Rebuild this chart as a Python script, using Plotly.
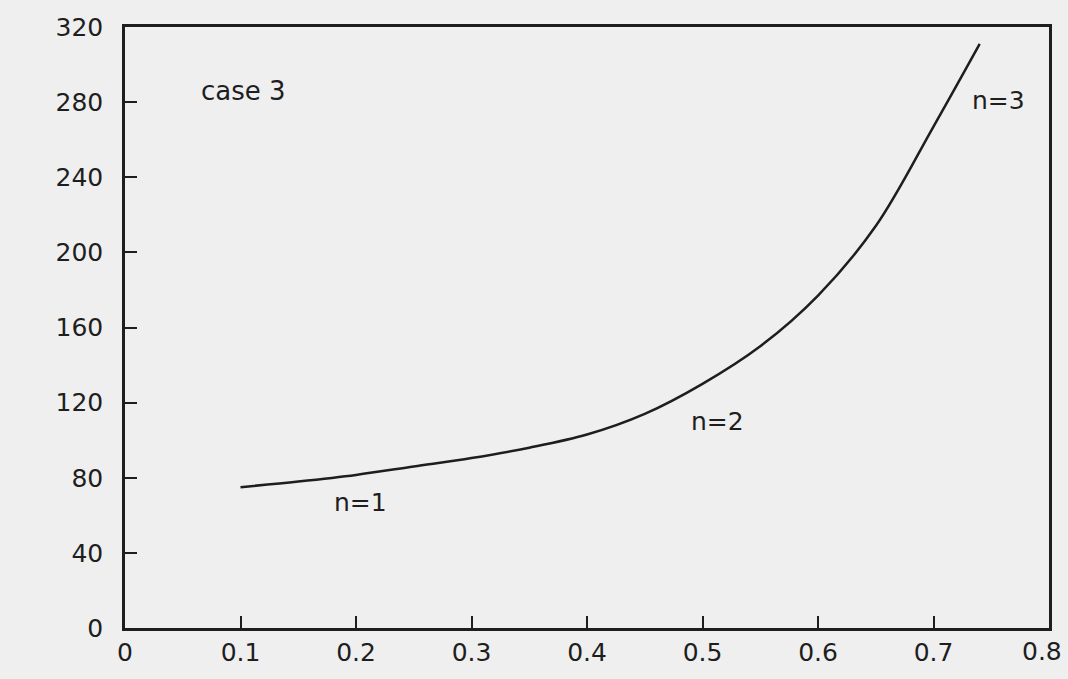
import plotly.graph_objects as go

# Data (a/b vs lambda, case 3)
ab = [0.10, 0.15, 0.20, 0.25, 0.30, 0.35, 0.40, 0.45, 0.50, 0.55, 0.60, 0.65, 0.70, 0.74]
lam = [75, 78, 81.5, 86, 90.5, 96, 103, 114, 130, 150, 177, 214, 267, 311]

x_ticks = [0, 0.1, 0.2, 0.3, 0.4, 0.5, 0.6, 0.7, 0.8]
x_labels = ["0", "0.1", "0.2", "0.3", "0.4", "0.5", "0.6", "0.7", "0.8"]
y_ticks = [0, 40, 80, 120, 160, 200, 240, 280, 320]
y_labels = ["0", "40", "80", "120", "160", "200", "240", "280", "320"]

mode_labels = ["n=1", "n=2", "n=3"]
mode_x = [0.2035, 0.513, 0.756]
mode_y = [66.8, 109.7, 281]

ink = "#1e1e1e"
paper = "#efefef"
font_family = "DejaVu Sans"
fs = 25

fig = go.Figure()
fig.add_trace(go.Scatter(
    x=ab, y=lam, mode="lines",
    line=dict(color=ink, width=2.5, shape="spline", smoothing=1.0),
    showlegend=False, hoverinfo="skip",
))

annotations = []
for t, xx, yy in zip(mode_labels, mode_x, mode_y):
    annotations.append(dict(x=xx, y=yy, xref="x", yref="y", text=t, showarrow=False,
                            font=dict(size=fs, color=ink, family=font_family)))
annotations.append(dict(x=0.103, y=286, xref="x", yref="y", text="case 3", showarrow=False,
                        font=dict(size=fs + 1, color=ink, family=font_family)))
annotations.append(dict(x=-0.090, y=287, xref="x", yref="y", text="λ", showarrow=False,
                        font=dict(size=fs, color=ink, family=font_family)))
annotations.append(dict(x=0.749, y=-20, xref="x", yref="y", text="a/b", showarrow=False,
                        font=dict(size=fs, color=ink, family=font_family)))
# last x tick label, drawn as annotation so it is not dropped at the figure edge
annotations.append(dict(x=x_ticks[-1], y=0, xref="x", yref="y", text=x_labels[-1],
                        showarrow=False, xshift=-7, yshift=-23,
                        font=dict(size=fs, color=ink, family=font_family)))
shown_x_labels = x_labels[:-1] + [""]

fig.update_layout(
    width=1068, height=679,
    margin=dict(l=125, r=19, t=27, b=48),
    paper_bgcolor=paper, plot_bgcolor=paper,
    font=dict(family=font_family, color=ink, size=fs),
    annotations=annotations,
    xaxis=dict(
        range=[0, 0.8], tickvals=x_ticks, ticktext=shown_x_labels,
        showgrid=False, zeroline=False,
        showline=True, linecolor=ink, linewidth=2.5, mirror=True,
        ticks="inside", ticklen=12, tickwidth=2, tickcolor=ink,
        tickfont=dict(size=fs, color=ink, family=font_family),
        ticklabelstandoff=0,
    ),
    yaxis=dict(
        range=[0, 320], tickvals=y_ticks, ticktext=y_labels,
        showgrid=False, zeroline=False,
        showline=True, linecolor=ink, linewidth=2.5, mirror=True,
        ticks="inside", ticklen=12, tickwidth=2, tickcolor=ink,
        tickfont=dict(size=fs, color=ink, family=font_family),
        ticklabelstandoff=14,
    ),
)

fig.write_html(
    "out.html",
    config={"displayModeBar": False},
    post_script="document.body.style.margin='0';document.body.style.background='#efefef';"
                "document.body.style.overflow='hidden';",
)
